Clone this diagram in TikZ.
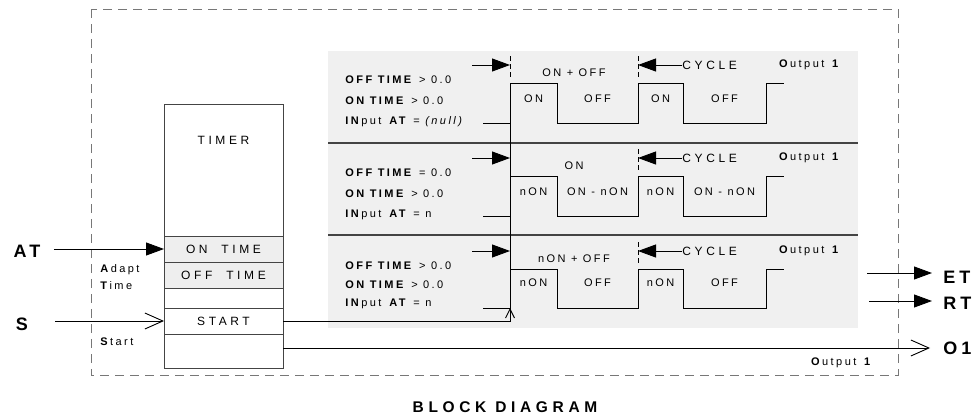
\documentclass[tikz,border=0pt]{standalone}
\usepackage{fontspec}
\setmainfont{Liberation Sans}[LetterSpace=22]
\newfontfamily\boxfont{Liberation Sans}[LetterSpace=30]
\usepackage{tikz}
\usetikzlibrary{arrows.meta, positioning}
\definecolor{panelgray}{HTML}{F0F0F0}
\definecolor{bandgray}{HTML}{EEEEEE}
\definecolor{framegray}{HTML}{777777}
\definecolor{linegray}{HTML}{444444}

\begin{document}
\begin{tikzpicture}[x=1pt, y=-1pt, line width=0.9pt,
    font=\fontsize{11}{13}\selectfont,
    part/.style={draw=linegray, minimum width=119pt, inner sep=0pt, outer sep=0pt,
      font=\boxfont\fontsize{12}{14}\selectfont},
    band/.style={part, fill=bandgray},
    bigtxt/.style={font=\fontsize{18}{20}\selectfont\bfseries, inner sep=0pt},
    cyc/.style={anchor=west, inner sep=0pt, font=\boxfont\fontsize{12}{14}\selectfont},
    frame/.style={draw=framegray, line width=1pt, dash pattern=on 9pt off 6pt},
    tick/.style={line width=0.8pt, dash pattern=on 5pt off 3pt},
    sep/.style={draw=linegray, line width=1.2pt},
    wave/.style={line width=0.9pt},
    fillarrow/.style={-{Triangle[length=18pt,width=13pt]}},
    openarrow/.style={-{Straight Barb[length=18pt,width=16pt]}}]
    \useasboundingbox (0,0) rectangle (972,415);

    % Outer block (dashed)
    \draw[frame] (91,9) rectangle (898,375);

    % Timing panels (background)
    \fill[panelgray] (328,51) rectangle (858,328);
    \draw[sep] (328,143) -- (858,143);
    \draw[sep] (328,235) -- (858,235);

    % Timer block
    \node[part, minimum height=132pt] (timer) at (223.5,170) {};
    \node[part, draw=none] (timertxt) at (223.5,140) {TIMER};
    \node[band, minimum height=26pt, below=0pt of timer] (ontime) {ON~~TIME};
    \node[band, minimum height=26pt, below=0pt of ontime] (offtime) {OFF~~TIME};
    \node[part, minimum height=20pt, below=0pt of offtime] (blank) {};
    \node[part, minimum height=26pt, below=0pt of blank] (start) {START};
    \node[part, minimum height=34pt, below=0pt of start] (tail) {};

    % Inputs
    \node[bigtxt] (lblAT) at (27,251) {AT};
    \node[bigtxt] (lblS) at (22,324) {S};
    \draw[fillarrow, shorten <=13pt] (lblAT.east |- ontime.west) -- (ontime.west);
    \draw[openarrow, shorten <=27pt] (lblS.east |- start.west) -- (start.west);
    \node[anchor=west, align=left, inner sep=0pt, font=\fontsize{11}{17}\selectfont]
      (adapt) at (100,277.5) {\textbf{A}dapt\\\textbf{T}ime};
    \node[anchor=west, inner sep=0pt] (startlbl) at (100,342) {\textbf{S}tart};

    % Panel 1: ON + OFF
    \node[anchor=west, inner sep=0pt] (p1off) at (345,80) {\textbf{OFF TIME} > 0.0};
    \node[anchor=west, inner sep=0pt] (p1on) at (345,101) {\textbf{ON TIME} > 0.0};
    \node[anchor=west, inner sep=0pt] (p1in) at (345,122) {\textbf{IN}put \textbf{AT} = \textit{(null)}};
    \draw[tick] (510,56) -- (510,79);
    \draw[tick] (638,56) -- (638,79);
    \node (p1mid) at (574,73) {ON + OFF};
    \coordinate (p1l) at (510,65);
    \coordinate (p1r) at (638,65);
    \draw[fillarrow] (472,65) -- (p1l);
    \node[cyc] (p1cyc) at (682,65) {CYCLE};
    \draw[fillarrow] (p1cyc.west) -- (p1r);
    \node (p1out) at (810,65) {\textbf{O}utput \textbf{1}};
    \draw[wave] (483,123) -- (510,123) |- (557,83) |- (638,123) |- (683,83) |- (766,123) |- (784,83);
    \node (p1a) at (533.5,99) {ON};
    \node (p1b) at (597.5,99) {OFF};
    \node (p1c) at (660.5,99) {ON};
    \node (p1d) at (724.5,99) {OFF};

    % Panel 2: ON
    \begin{scope}[shift={(0,93)}]
    \node[anchor=west, inner sep=0pt] (p2off) at (345,80) {\textbf{OFF TIME} = 0.0};
    \node[anchor=west, inner sep=0pt] (p2on) at (345,101) {\textbf{ON TIME} > 0.0};
    \node[anchor=west, inner sep=0pt] (p2in) at (345,122) {\textbf{IN}put \textbf{AT} = n};
    \draw[tick] (510,56) -- (510,79);
    \draw[tick] (638,56) -- (638,79);
    \node (p2mid) at (574,73) {ON};
    \coordinate (p2l) at (510,65);
    \coordinate (p2r) at (638,65);
    \draw[fillarrow] (472,65) -- (p2l);
    \node[cyc] (p2cyc) at (682,65) {CYCLE};
    \draw[fillarrow] (p2cyc.west) -- (p2r);
    \node (p2out) at (810,65) {\textbf{O}utput \textbf{1}};
    \draw[wave] (483,123) -- (510,123) |- (557,83) |- (638,123) |- (683,83) |- (766,123) |- (784,83);
    \node (p2a) at (533.5,99) {nON};
    \node (p2b) at (597.5,99) {ON - nON};
    \node (p2c) at (660.5,99) {nON};
    \node (p2d) at (724.5,99) {ON - nON};
    \end{scope}

    % Panel 3: nON + OFF
    \begin{scope}[shift={(0,186)}]
    \node[anchor=west, inner sep=0pt] (p3off) at (345,80) {\textbf{OFF TIME} > 0.0};
    \node[anchor=west, inner sep=0pt] (p3on) at (345,99) {\textbf{ON TIME} > 0.0};
    \node[anchor=west, inner sep=0pt] (p3in) at (345,118) {\textbf{IN}put \textbf{AT} = n};
    \draw[tick] (510,56) -- (510,79);
    \draw[tick] (638,56) -- (638,79);
    \node (p3mid) at (574,73) {nON + OFF};
    \coordinate (p3l) at (510,65);
    \coordinate (p3r) at (638,65);
    \draw[fillarrow] (472,65) -- (p3l);
    \node[cyc] (p3cyc) at (682,65) {CYCLE};
    \draw[fillarrow] (p3cyc.west) -- (p3r);
    \node (p3out) at (810,65) {\textbf{O}utput \textbf{1}};
    \draw[wave] (483,122) -- (510,122) |- (557,83) |- (638,122) |- (683,83) |- (766,122) |- (784,83);
    \node (p3a) at (533.5,97) {nON};
    \node (p3b) at (597.5,97) {OFF};
    \node (p3c) at (660.5,97) {nON};
    \node (p3d) at (724.5,97) {OFF};
    \coordinate (p3rise) at (510,122);
    \end{scope}

    % Start trigger
    \draw (510,123) -- (p3rise);
    \draw[-{Straight Barb[length=9pt,width=9pt]}] (start.east) -| (p3rise);

    % Outputs
    \node[bigtxt, anchor=west] (lblET) at (943,277) {ET};
    \node[bigtxt, anchor=west] (lblRT) at (943,303) {RT};
    \node[bigtxt, anchor=west] (lblO1) at (943,348) {O1};
    \coordinate (etfrom) at (867,273);
    \coordinate (rtfrom) at (869,301);
    \draw[fillarrow, shorten >=11pt] (etfrom) -- (etfrom -| lblET.west);
    \draw[fillarrow, shorten >=11pt] (rtfrom) -- (rtfrom -| lblRT.west);
    \draw[openarrow, shorten >=13pt] (tail.east |- lblO1.west) -- (lblO1.west);
    \node (outlbl) at (842,363) {\textbf{O}utput \textbf{1}};

    % Title
    \node[font=\boxfont\fontsize{15.5}{18}\selectfont\bfseries] (title) at (505,407) {BLOCK DIAGRAM};
\end{tikzpicture}
\end{document}
